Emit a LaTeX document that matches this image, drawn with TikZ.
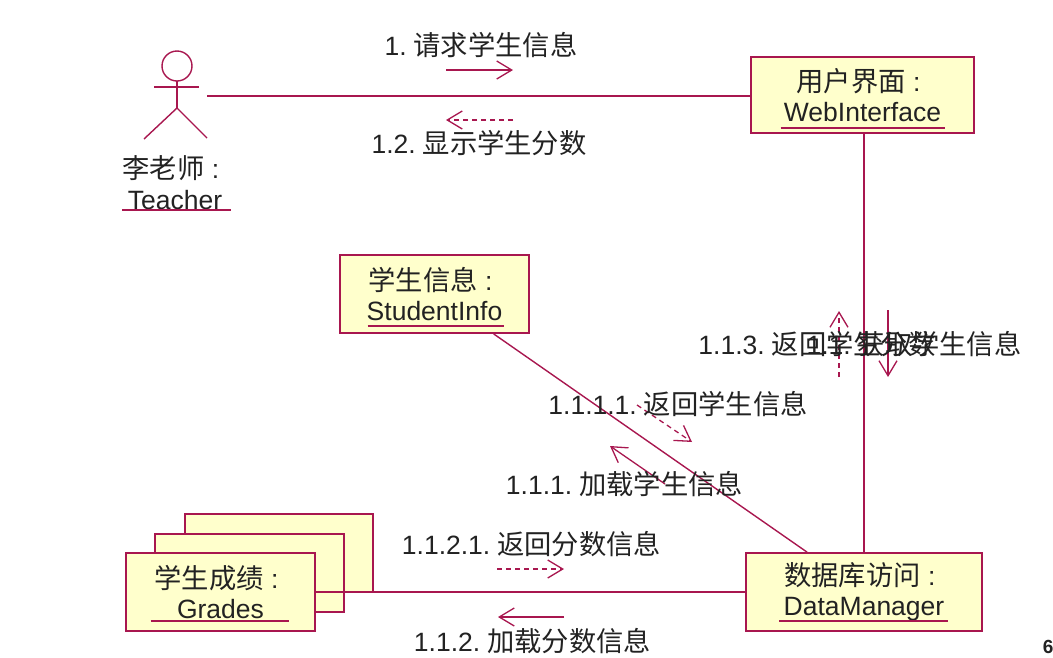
\documentclass[tikz,border=0pt]{standalone}
\usepackage{fontspec}
\setmainfont{Liberation Sans}
\newfontfamily\cjk[Scale=1.03]{Noto Sans CJK SC}
\usetikzlibrary{arrows.meta}

\definecolor{umlred}{HTML}{A8174F}
\definecolor{umlfill}{HTML}{FFFFCC}
\definecolor{umltext}{HTML}{222222}

\begin{document}
\begin{tikzpicture}[x=1pt, y=-1pt, line width=1.8pt,
    umlline/.style={color=umlred},
    message/.style={color=umlred, line width=1.3pt, -{Straight Barb[length=15pt, width=18pt, line width=1.3pt]}},
    reply/.style={message, dashed, dash pattern=on 5pt off 4pt},
    umlobject/.style={draw=umlred, fill=umlfill, text=umltext, inner sep=0pt, align=center,
      font=\fontsize{26.5}{30.5}\selectfont},
    umllabel/.style={text=umltext, inner sep=0pt, font=\fontsize{26.5}{30.5}\selectfont}]
    \useasboundingbox (0, 0) rectangle (1053, 657);

    % draw actor
    \draw[umlline, line width=1.4pt] (177, 66) circle (15);
    \draw[umlline] (154, 87) -- (199, 87);
    \draw[umlline] (177, 81) -- (177, 108);
    \draw[umlline, line width=1.4pt] (144, 139) -- (177, 108) -- (207, 138);
    \coordinate (teacher) at (207, 96);
    \node[umllabel, align=center] (teachername) at (175, 182.5) {{\cjk 李老师} :\kern8pt\\Teacher};
    \draw[umlline] ([xshift=-53pt]teachername.south) ++(0, 0) -- ++(109, 0);

    % draw objects
    \node[umlobject, minimum width=223pt, minimum height=76pt] (webinterface) at (862.5, 95) {{\cjk 用户界面} :\kern8pt\\WebInterface};
    \node[umlobject, minimum width=189pt, minimum height=78pt] (studentinfo) at (434.5, 294) {{\cjk 学生信息} :\kern8pt\\StudentInfo};
    \node[umlobject, minimum width=236pt, minimum height=78pt] (datamanager) at (864, 592) {{\cjk 数据库访问} :\kern8pt\\DataManager};
    \node[umlobject, minimum width=188pt, minimum height=78pt] (gradesback) at (279, 553) {};
    \node[umlobject, minimum width=189pt, minimum height=78pt] (gradesmid) at (249.5, 573) {};
    \node[umlobject, minimum width=189pt, minimum height=78pt] (grades) at (220.5, 592) {{\cjk 学生成绩} :\kern8pt\\Grades};

    % draw underlines
    \draw[umlline] ([xshift=-82pt, yshift=6pt]webinterface.south) -- ([xshift=82pt, yshift=6pt]webinterface.south);
    \draw[umlline] ([xshift=-67pt, yshift=8pt]studentinfo.south) -- ([xshift=69pt, yshift=8pt]studentinfo.south);
    \draw[umlline] ([xshift=-85pt, yshift=11pt]datamanager.south) -- ([xshift=84pt, yshift=11pt]datamanager.south);
    \draw[umlline] ([xshift=-70pt, yshift=11pt]grades.south) -- ([xshift=68pt, yshift=11pt]grades.south);

    % draw links
    \draw[umlline] (teacher) -- (teacher -| webinterface.west);
    \draw[umlline] (datamanager.north |- webinterface.south) -- (datamanager.north);
    \draw[umlline, line width=1.4pt] (studentinfo.-34) -- (datamanager.145);
    \draw[umlline] (grades.east |- datamanager.west) -- (datamanager.west);

    % draw messages
    \coordinate (msgastart) at (446, 70);
    \coordinate (msgaend) at (513, 70);
    \draw[message] (msgastart) -- (msgaend);
    \coordinate (msgbstart) at (513, 120);
    \coordinate (msgbend) at (446, 120);
    \draw[reply] (msgbstart) -- (msgbend);
    \coordinate (msgcstart) at (888, 310);
    \coordinate (msgcend) at (888, 377);
    \draw[message] (msgcstart) -- (msgcend);
    \coordinate (msgdstart) at (839, 377);
    \coordinate (msgdend) at (839, 311);
    \draw[reply] (msgdstart) -- (msgdend);
    \coordinate (msgestart) at (637, 405);
    \coordinate (msgeend) at (692, 442);
    \draw[reply] (msgestart) -- (msgeend);
    \coordinate (msgfstart) at (665, 484);
    \coordinate (msgfend) at (610, 446);
    \draw[message] (msgfstart) -- (msgfend);
    \coordinate (msggstart) at (497, 569);
    \coordinate (msggend) at (564, 569);
    \draw[reply] (msggstart) -- (msggend);
    \coordinate (msghstart) at (564, 617);
    \coordinate (msghend) at (498, 617);
    \draw[message] (msghstart) -- (msghend);

    % draw message labels
    \node[umllabel] (msga) at (481, 45) {1.\hspace{7pt}{\cjk 请求学生信息}};
    \node[umllabel] (msgb) at (479, 143) {1.2.\hspace{7pt}{\cjk 显示学生分数}};
    \node[umllabel] (msgd) at (817, 344) {1.1.3.\hspace{7pt}{\cjk 返回学生分数}};
    \node[umllabel] (msgc) at (914, 344) {1.1.\hspace{7pt}{\cjk 获取学生信息}};
    \node[umllabel] (msge) at (678, 404) {1.1.1.1.\hspace{7pt}{\cjk 返回学生信息}};
    \node[umllabel] (msgf) at (624.5, 484) {1.1.1.\hspace{7pt}{\cjk 加载学生信息}};
    \node[umllabel] (msgg) at (531.5, 544) {1.1.2.1.\hspace{7pt}{\cjk 返回分数信息}};
    \node[umllabel] (msgh) at (532.5, 641) {1.1.2.\hspace{7pt}{\cjk 加载分数信息}};

    % page number cut off by the edge
    \node[umllabel, anchor=west, font=\bfseries\fontsize{19}{22}\selectfont] (pagenum) at (1042, 647) {6};
\end{tikzpicture}
\end{document}
